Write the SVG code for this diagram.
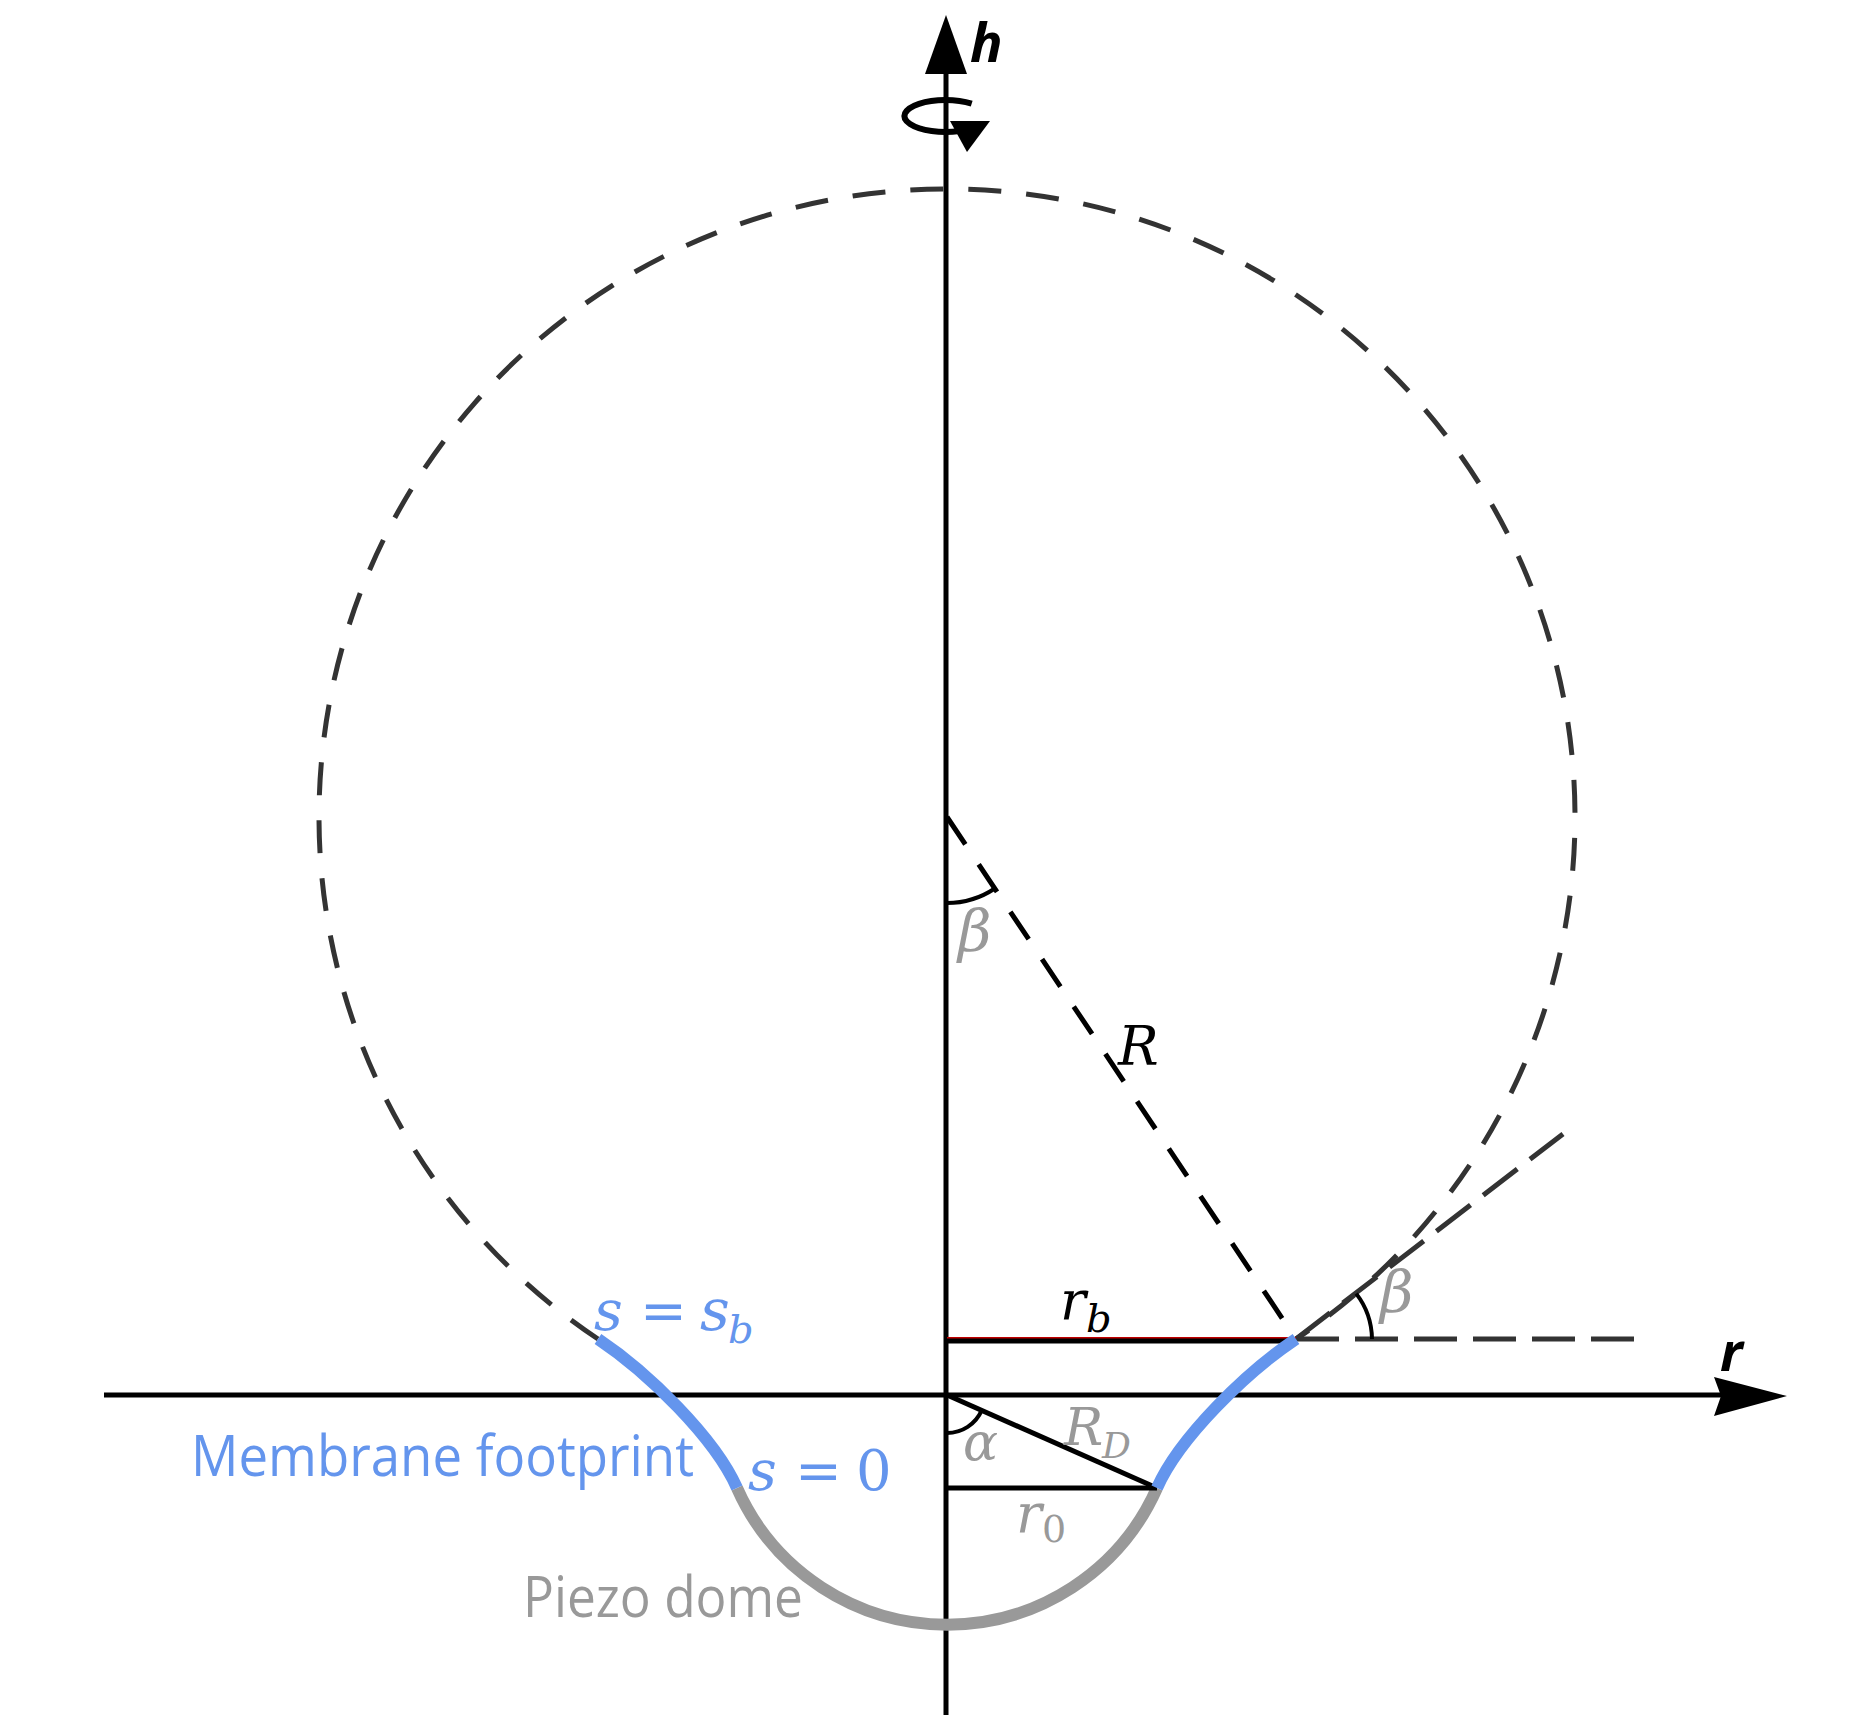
<svg xmlns="http://www.w3.org/2000/svg" width="1871" height="1715" viewBox="0 0 1871 1715">
<style>
.axis{stroke:#000;stroke-width:5;fill:none}
.dashc{stroke:#333;stroke-width:5;fill:none;stroke-dasharray:33 25}
.dashr{stroke:#000;stroke-width:5;fill:none;stroke-dasharray:33 24}
.dashl{stroke:#333;stroke-width:5;fill:none;stroke-dasharray:43 16}
.thin{stroke:#000;stroke-width:4;fill:none}
.blue{stroke:#6495ED;stroke-width:12;fill:none}
.grayc{stroke:#999;stroke-width:12;fill:none}
.math{font-family:"DejaVu Serif","Liberation Serif",serif;font-style:italic}
.up{font-family:"DejaVu Serif","Liberation Serif",serif;font-style:normal}
.ax{font-family:"Open Sans","Noto Sans",sans-serif;font-style:italic;font-weight:bold;font-size:54px}
.lab{font-family:"Open Sans","Noto Sans",sans-serif;font-size:57px}
</style>
<rect width="1871" height="1715" fill="#fff"/>
<g id="connectors">
<line class="axis" x1="946" y1="72" x2="946" y2="1715"/>
<polygon points="946,15 925,74 967,74" fill="#000"/>
<line class="axis" x1="104" y1="1395" x2="1722" y2="1395"/>
<polygon points="1787,1396 1714,1377 1721,1396 1714,1416" fill="#000"/>
<path d="M971.7,103.7 A41,16 0 1 0 959.7,131" stroke="#000" stroke-width="6" fill="none"/>
<polygon points="950,121 990,121 967,152" fill="#000"/>
</g>
<g id="circle">
<path class="dashc" d="M598,1339 A628,628 0 1 1 1296,1339"/>
</g>
<g id="radius">
<line class="dashr" x1="947" y1="817" x2="1296" y2="1339"/>
<path class="thin" d="M947,903 A86,86 0 0 0 994.8,888.5"/>
</g>
<g id="tangent">
<line class="dashl" x1="1296" y1="1339" x2="1636" y2="1339"/>
<line class="dashl" x1="1296" y1="1339" x2="1563" y2="1134"/>
<path class="thin" d="M1372,1339 A76,76 0 0 0 1356.2,1293.6"/>
</g>
<g id="rb-line">
<line x1="947" y1="1339" x2="1296" y2="1339" stroke="#c00000" stroke-width="4"/>
<line x1="947" y1="1341" x2="1296" y2="1341" stroke="#000" stroke-width="5"/>
</g>
<g id="dome">
<path class="grayc" d="M737,1488 A229.7,229.7 0 0 0 1157,1488"/>
<line class="axis" x1="947" y1="1395" x2="1157" y2="1488"/>
<line class="axis" x1="947" y1="1488" x2="1157" y2="1488"/>
<path class="thin" d="M947,1433 A38,38 0 0 0 981.7,1410.4"/>
</g>
<g id="membrane">
<path class="blue" d="M1157,1488 C1179.3,1437.7 1246.1,1372.4 1296,1339"/>
<path class="blue" d="M737,1488 C714.7,1437.7 647.9,1372.4 598,1339"/>
</g>
<g id="labels">
<text class="ax" x="970" y="62">h</text>
<text class="ax" x="1720" y="1371">r</text>
<text class="math" x="958" y="951" font-size="58" fill="#999">β</text>
<text class="math" x="1118" y="1065" font-size="54" fill="#000">R</text>
<text class="math" x="1060" y="1319" font-size="54" fill="#000">r</text>
<text class="math" x="1086" y="1332" font-size="40" fill="#000">b</text>
<text class="math" x="1380" y="1312" font-size="58" fill="#999">β</text>
<text class="math" x="963" y="1460" font-size="52" fill="#999">α</text>
<text class="math" x="1064" y="1445" font-size="52" fill="#999">R</text>
<text class="math" x="1102" y="1458" font-size="36" fill="#999">D</text>
<text class="math" x="1016" y="1532" font-size="54" fill="#999">r</text>
<text class="up" x="1042" y="1542" font-size="38" fill="#999">0</text>
<text class="math" x="594" y="1330" font-size="56" fill="#6495ED">s</text>
<text class="up" x="640" y="1330" font-size="56" fill="#6495ED">=</text>
<text class="math" x="700" y="1330" font-size="58" fill="#6495ED">s</text>
<text class="math" x="728" y="1343" font-size="40" fill="#6495ED">b</text>
<text class="math" x="748" y="1490" font-size="56" fill="#6495ED">s</text>
<text class="up" x="795" y="1490" font-size="56" fill="#6495ED">=</text>
<text class="up" x="856" y="1490" font-size="56" fill="#6495ED">0</text>
<text class="lab" x="191" y="1476" fill="#6495ED" textLength="503" lengthAdjust="spacingAndGlyphs">Membrane footprint</text>
<text class="lab" x="523" y="1617" fill="#999" textLength="280" lengthAdjust="spacingAndGlyphs">Piezo dome</text>
</g>
</svg>
